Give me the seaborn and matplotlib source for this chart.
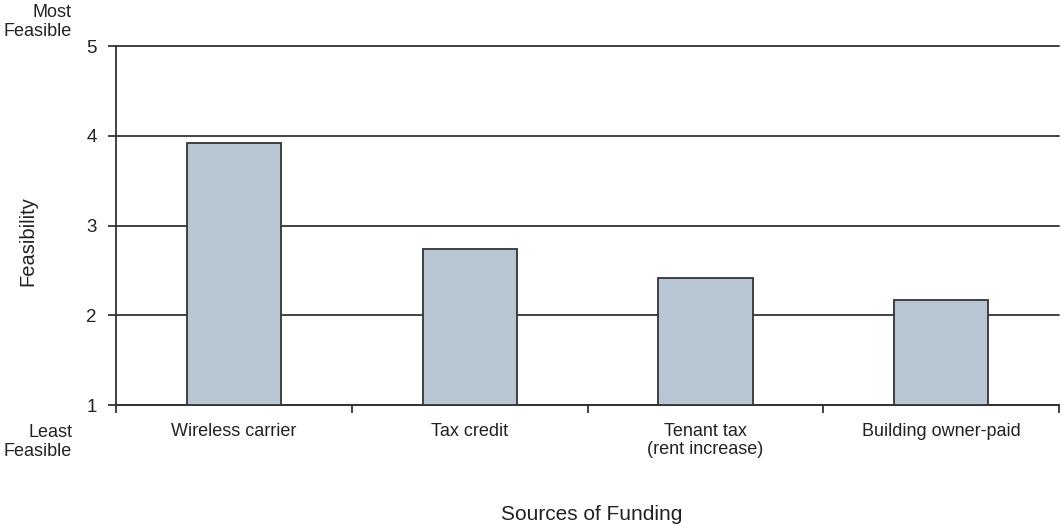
import matplotlib
matplotlib.use("Agg")
import matplotlib.pyplot as plt
import seaborn as sns
import pandas as pd
from matplotlib.ticker import FixedLocator

categories = ["Wireless carrier", "Tax credit", "Tenant tax\n(rent increase)", "Building owner-paid"]
feasibility = [3.92, 2.74, 2.42, 2.17]
y_ticks = [1, 2, 3, 4, 5]

sns.set_theme(style="white")
plt.rcParams['font.family'] = ['Liberation Sans', 'DejaVu Sans']

df = pd.DataFrame({"source": categories, "value": feasibility})

fig = plt.figure(figsize=(10.61, 5.26), dpi=100)
ax = fig.add_axes([0.1093, 0.23, 0.889, 0.6825])

ax.yaxis.grid(True, color="#333333", linewidth=1.3)
ax.set_axisbelow(True)

sns.barplot(data=df, x="source", y="value", color="#b8c6d3", width=0.4,
            edgecolor="#333333", linewidth=1.3, saturation=1, ax=ax)

ax.set_ylim(1, 5)
ax.set_xlim(-0.5, len(categories) - 0.5)
ax.set_yticks(y_ticks)
ax.set_yticklabels([str(t) for t in y_ticks], fontsize=13.5, color="#222222")
ax.set_xticks(range(len(categories)))
ax.set_xticklabels(categories, fontsize=13, color="#222222", linespacing=1.1)
ax.xaxis.set_minor_locator(FixedLocator([i - 0.5 for i in range(len(categories) + 1)]))
ax.tick_params(axis="x", which="major", length=0, pad=13)
ax.tick_params(axis="x", which="minor", length=6, width=1.3, color="#333333", direction="out", bottom=True)
ax.tick_params(axis="y", which="major", length=6, width=1.3, color="#333333", direction="out", left=True, pad=8)
for gl in ax.get_ygridlines():
    gl.set_clip_on(False)

for s in ["top", "right"]:
    ax.spines[s].set_visible(False)
for s in ["left", "bottom"]:
    ax.spines[s].set_color("#333333")
    ax.spines[s].set_linewidth(1.3)

ax.set_xlabel("")
ax.set_ylabel("")
fig.text(592 / 1061, 1 - 520 / 526, "Sources of Funding", ha="center", va="baseline", fontsize=15, color="#222222")
fig.text(28 / 1061, 1 - 241 / 526, "Feasibility", ha="center", va="center", rotation=90, fontsize=14.5, color="#222222")

fig.text(72 / 1061, 1 - 22 / 526, "Most\nFeasible", ha="right", va="center", fontsize=13, color="#222222", linespacing=1.15)
fig.text(72 / 1061, 1 - 442 / 526, "Least\nFeasible", ha="right", va="center", fontsize=13, color="#222222", linespacing=1.15)

fig.savefig("out.png", dpi=100)
